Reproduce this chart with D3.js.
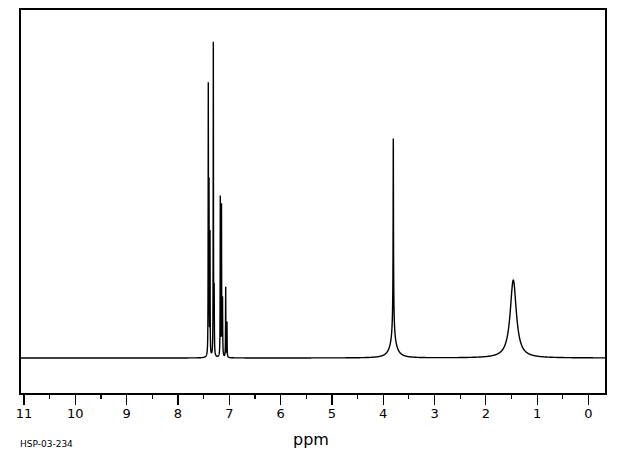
<!DOCTYPE html>
<html>
<head>
<meta charset="utf-8">
<script src="https://cdn.jsdelivr.net/npm/d3@7"></script>
<style>
  html, body { margin: 0; padding: 0; background: #fff; }
  svg { display: block; }
</style>
</head>
<body>
<svg id="chart" width="620" height="455"></svg>
<script>
// ---- Data ----
// Peak centres (ppm), heights (relative intensity, tallest = 100), half-widths (ppm)
const peakPpm    = [7.399, 7.385, 7.366, 7.301, 7.285, 7.165, 7.142, 7.122, 7.060, 7.035, 3.794, 3.794, 3.794, 1.456];
const peakHeight = [84,    52,    38,    98,    20,    50,    47,    18,    22,    11,    54,    10,    5,     24.5];
const peakWidth  = [0.003, 0.003, 0.003, 0.003, 0.004, 0.003, 0.003, 0.004, 0.003, 0.003, 0.004, 0.02,  0.08,  0.072];
const majorTicks = [11, 10, 9, 8, 7, 6, 5, 4, 3, 2, 1, 0];
const minorTicks = [10.5, 9.5, 8.5, 7.5, 6.5, 5.5, 4.5, 3.5, 2.5, 1.5, 0.5];
const xLabel = "ppm";
const sampleId = "HSP-03-234";

// ---- Layout ----
const svg = d3.select("#chart");
const frame = { left: 20, right: 606, top: 9, bottom: 394 };

const x = d3.scaleLinear().domain([11, 0]).range([23.5, 588]);
const y = d3.scaleLinear().domain([0, 100]).range([358, 40]);

// spectrum trace built as sum of Lorentzian lines from the peak table
const ppmMin = x.invert(frame.right), ppmMax = x.invert(frame.left);
const grid = d3.range(ppmMin, ppmMax, 0.002).concat(peakPpm);
grid.sort((a, b) => a - b);
const spectrum = grid.map(p => {
  let v = 0;
  for (let i = 0; i < peakPpm.length; i++) {
    const d = p - peakPpm[i], g = peakWidth[i];
    v += peakHeight[i] * g * g / (d * d + g * g);
  }
  return [p, v];
});

// frame
svg.append("rect")
  .attr("x", frame.left).attr("y", frame.top)
  .attr("width", frame.right - frame.left).attr("height", frame.bottom - frame.top)
  .attr("fill", "none").attr("stroke", "#000").attr("stroke-width", 1.3)
  .attr("shape-rendering", "crispEdges");

// clip for trace
svg.append("clipPath").attr("id", "clip").append("rect")
  .attr("x", frame.left).attr("y", frame.top)
  .attr("width", frame.right - frame.left).attr("height", frame.bottom - frame.top);

svg.append("path")
  .datum(spectrum)
  .attr("clip-path", "url(#clip)")
  .attr("fill", "none")
  .attr("stroke", "#000")
  .attr("stroke-width", 1.4)
  .attr("d", d3.line().x(d => x(d[0])).y(d => y(d[1])));

// axes
const major = svg.append("g")
  .attr("transform", `translate(0,${frame.bottom})`)
  .call(d3.axisBottom(x).tickValues(majorTicks).tickFormat(d3.format("d")).tickSize(11).tickPadding(4));
major.select(".domain").remove();
major.selectAll("line").attr("stroke", "#000").attr("stroke-width", 1.2).attr("shape-rendering", "crispEdges");
major.selectAll("text").attr("font-family", "DejaVu Sans, sans-serif").attr("font-size", 13).attr("fill", "#000");

const minor = svg.append("g")
  .attr("transform", `translate(0,${frame.bottom})`)
  .call(d3.axisBottom(x).tickValues(minorTicks).tickFormat("").tickSize(5));
minor.select(".domain").remove();
minor.selectAll("line").attr("stroke", "#000").attr("stroke-width", 1.2).attr("shape-rendering", "crispEdges");

// labels
svg.append("text")
  .attr("x", 311).attr("y", 445)
  .attr("text-anchor", "middle")
  .attr("font-family", "DejaVu Sans, sans-serif").attr("font-size", 16)
  .attr("fill", "#000")
  .text(xLabel);

svg.append("text")
  .attr("x", 20).attr("y", 447)
  .attr("font-family", "DejaVu Sans, sans-serif").attr("font-size", 9)
  .attr("fill", "#000")
  .text(sampleId);
</script>
</body>
</html>
